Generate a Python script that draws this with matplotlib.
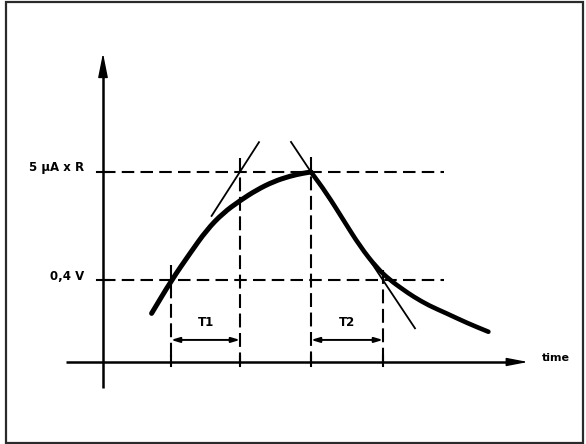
import matplotlib
matplotlib.use("Agg")
import matplotlib.pyplot as plt
from matplotlib.patches import Rectangle, PathPatch
from matplotlib.path import Path

plt.rcParams['lines.scale_dashes'] = False
plt.rcParams['font.family'] = ['DejaVu Sans']

# output waveform (time, volts)
t_wave = [2.43, 3.43, 4.35, 5.18, 6.0, 6.85, 7.68, 8.52, 9.35, 10.0, 10.4,
          11.18, 12.02, 12.85, 13.68, 14.35, 15.0, 15.52, 16.3, 17.18, 18.2, 19.27]
v_wave = [0.238, 0.401, 0.532, 0.646, 0.729, 0.790, 0.842, 0.883, 0.910, 0.924, 0.930,
          0.826, 0.695, 0.566, 0.462, 0.401, 0.355, 0.320, 0.276, 0.238, 0.191, 0.148]
i_peak = 10

# reference levels
v_low = 0.4            # 0,4 V
v_high = 0.93          # 5 uA x R
level_labels = ['5 µA x R', '0,4 V']

# measurement instants
t_marks = [3.4, 6.85, 10.4, 14.0]
mark_tops = [0.475, 1.0, 1.005, 0.45]

# tangent lines (drawn segments)
tan1_t = [5.43, 7.8]
tan1_v = [0.715, 1.076]
tan2_t = [9.4, 15.6]
tan2_v = [1.077, 0.165]

interval_names = ['T1', 'T2']
v_dim = 0.108


def smooth_path(ts, vs):
    # quadratic bezier through midpoints, points used as control points
    pts = list(zip(ts, vs))
    verts = [pts[0]]
    codes = [Path.MOVETO]
    verts.append(((pts[0][0] + pts[1][0]) / 2, (pts[0][1] + pts[1][1]) / 2))
    codes.append(Path.LINETO)
    for k in range(1, len(pts) - 1):
        nxt = ((pts[k][0] + pts[k + 1][0]) / 2, (pts[k][1] + pts[k + 1][1]) / 2)
        verts += [pts[k], nxt]
        codes += [Path.CURVE3, Path.CURVE3]
    verts.append(pts[-1])
    codes.append(Path.LINETO)
    return Path(verts, codes)


fig = plt.figure(figsize=(5.86, 4.44), dpi=100)
ax = fig.add_axes([0, 0, 1, 1])
ax.set_xlim(-5.15, 24.15)
ax.set_ylim(-0.4014, 1.7719)
ax.axis('off')

fig.patches.append(Rectangle((6 / 586, 1 / 444), 577 / 586, 441 / 444,
                             transform=fig.transFigure, fill=False,
                             ec='#2a2a2a', lw=1.6))

# axes with arrows
ax.plot([-1.85, 20.6], [0, 0], color='black', lw=1.8, solid_capstyle='butt')
ax.annotate('', xy=(21.25, 0), xytext=(20.3, 0),
            arrowprops=dict(arrowstyle='-|>,head_length=1.3,head_width=0.25',
                            color='black', lw=1.0, shrinkA=0, shrinkB=0))
ax.plot([0, 0], [-0.127, 1.45], color='black', lw=1.8, solid_capstyle='butt')
ax.annotate('', xy=(0, 1.512), xytext=(0, 1.4),
            arrowprops=dict(arrowstyle='-|>,head_length=1.5,head_width=0.3',
                            color='black', lw=1.0, shrinkA=0, shrinkB=0))
ax.text(21.95, 0.02, 'time', fontsize=8, fontweight='bold',
        ha='left', va='center')

# horizontal reference levels
dash = (0, (9, 4.5))
for v, lab in zip([v_high, v_low], level_labels):
    ax.plot([0, 17.05], [v, v], color='black', lw=1.5, linestyle=dash)
    ax.plot([-0.3, 0.3], [v, v], color='black', lw=1.5)
    ax.text(-0.95, v + 0.02, lab, fontsize=8.5, fontweight='bold',
            ha='right', va='center')

# vertical marks
for t, top in zip(t_marks, mark_tops):
    ax.plot([t, t], [top, 0], color='black', lw=1.5, linestyle=(0, (10, 4)))
    ax.plot([t, t], [0.03, -0.02], color='black', lw=1.5)

# tangents
ax.plot(tan1_t, tan1_v, color='black', lw=1.3)
ax.plot(tan2_t, tan2_v, color='black', lw=1.3)

# waveform: rising and falling edges meet at the peak
for sl, w in [(slice(0, i_peak + 1), 3.6), (slice(i_peak, None), 3.3)]:
    ax.add_patch(PathPatch(smooth_path(t_wave[sl], v_wave[sl]), fill=False,
                           ec='black', lw=w, capstyle='round', joinstyle='round'))

# interval dimensions
for i, name in enumerate(interval_names):
    a, b = t_marks[2 * i], t_marks[2 * i + 1]
    ax.annotate('', xy=(a, v_dim), xytext=(b, v_dim),
                arrowprops=dict(arrowstyle='<|-|>,head_length=0.5,head_width=0.15',
                                color='black', lw=1.4, shrinkA=0, shrinkB=0))
    ax.text((a + b) / 2, v_dim + 0.085, name, fontsize=8.5, fontweight='bold',
            ha='center', va='center')

fig.savefig('out.png', dpi=100)
